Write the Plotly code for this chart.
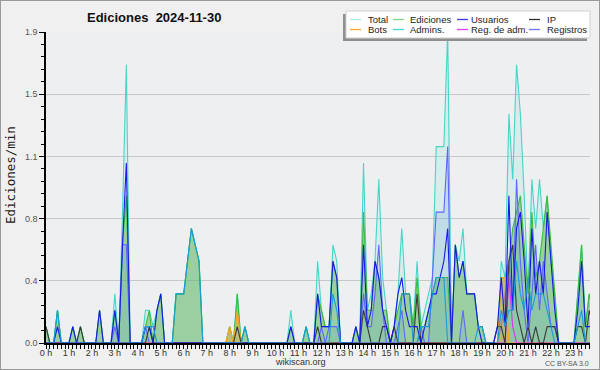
import numpy as np
import plotly.graph_objects as go

# ---- data: edits per minute in 10-minute bins (144 bins, 00:00 .. 23:50) ----
hours = [i / 6 for i in range(144)]

total = [
    0.1, 0, 0, 0.2, 0, 0, 0, 0.1, 0, 0.1, 0, 0,
    0, 0, 0.2, 0, 0, 0, 0.3, 0, 0.8, 1.7, 0, 0,
    0, 0, 0.2, 0.2, 0.1, 0.2, 0.3, 0, 0, 0, 0.3, 0.3,
    0.3, 0.5, 0.7, 0.6, 0.5, 0, 0, 0, 0, 0, 0, 0,
    0.1, 0, 0.3, 0, 0.1, 0, 0, 0, 0, 0, 0, 0,
    0, 0, 0, 0, 0.2, 0, 0, 0, 0.1, 0, 0, 0.5,
    0.2, 0.1, 0.1, 0.6, 0.5, 0, 0, 0, 0, 0.1, 0, 1.1,
    0.2, 0.3, 0.5, 1.0, 0.4, 0.2, 0, 0.1, 0.3, 0.7, 0.3, 0.3,
    0.1, 0.5, 0.1, 0.2, 0.3, 0.4, 1.2, 1.2, 1.2, 1.9, 0, 0.6,
    0.5, 0.7, 0.3, 0.3, 0.3, 0.1, 0.1, 0, 0, 0, 0, 0.5,
    0.4, 1.4, 1.0, 1.7, 1.4, 0.9, 0.3, 1.0, 0.7, 1.0, 0.7, 0.9,
    0.5, 0.3, 0, 0, 0, 0, 0, 0.3, 0.6, 0.1, 0.3, 0.2,
]
ediciones = [
    0.1, 0, 0, 0.2, 0, 0, 0, 0.1, 0, 0.1, 0, 0,
    0, 0, 0.2, 0, 0, 0, 0.2, 0, 0.6, 0.9, 0, 0,
    0, 0, 0.1, 0.2, 0, 0.2, 0.3, 0, 0, 0, 0.3, 0.3,
    0.3, 0.5, 0.7, 0.6, 0.5, 0, 0, 0, 0, 0, 0, 0,
    0.1, 0, 0.3, 0, 0.1, 0, 0, 0, 0, 0, 0, 0,
    0, 0, 0, 0, 0.1, 0, 0, 0, 0.1, 0, 0, 0.3,
    0.2, 0.1, 0.1, 0.5, 0.4, 0, 0, 0, 0, 0.1, 0, 0.8,
    0.2, 0.2, 0.5, 0.4, 0.2, 0.2, 0, 0.1, 0.2, 0.3, 0.3, 0.3,
    0.1, 0.4, 0.1, 0.1, 0.2, 0.3, 0.4, 0.4, 0.4, 0.4, 0, 0.6,
    0.4, 0.5, 0.3, 0.3, 0.3, 0.1, 0.1, 0, 0, 0, 0, 0.4,
    0.4, 0.5, 0.7, 0.8, 0.9, 0.6, 0.3, 0.8, 0.4, 0.5, 0.7, 0.9,
    0.6, 0.3, 0, 0, 0, 0, 0, 0.3, 0.6, 0.1, 0.3, 0.2,
]
usuarios = [
    0, 0, 0, 0.1, 0, 0, 0, 0.1, 0, 0, 0, 0,
    0, 0, 0.2, 0, 0, 0, 0.2, 0, 0.6, 1.1, 0, 0,
    0, 0, 0.1, 0.1, 0, 0.2, 0.3, 0, 0, 0, 0, 0,
    0, 0, 0, 0, 0, 0, 0, 0, 0, 0, 0, 0,
    0, 0, 0, 0, 0, 0, 0, 0, 0, 0, 0, 0,
    0, 0, 0, 0, 0.1, 0, 0, 0, 0, 0, 0, 0.3,
    0.1, 0.1, 0.1, 0.5, 0.4, 0, 0, 0, 0, 0.1, 0, 0.6,
    0.1, 0.2, 0.5, 0.4, 0.2, 0.1, 0, 0.1, 0.3, 0.4, 0.2, 0.1,
    0.1, 0.1, 0, 0.1, 0.2, 0.3, 0.3, 0.4, 0.5, 0.7, 0, 0.6,
    0.4, 0.5, 0.3, 0.3, 0.3, 0.1, 0, 0, 0, 0, 0.1, 0.4,
    0.1, 0.9, 0.2, 0.7, 0.8, 0.5, 0.1, 0.7, 0.3, 0.5, 0.3, 0.8,
    0.5, 0.2, 0, 0, 0, 0, 0, 0.2, 0.5, 0.1, 0.1, 0.1,
]
ip = [
    0.1, 0, 0, 0, 0, 0, 0, 0, 0, 0.1, 0, 0,
    0, 0, 0, 0, 0, 0, 0, 0, 0, 0, 0, 0,
    0, 0, 0, 0.1, 0, 0, 0, 0, 0, 0, 0, 0,
    0, 0, 0, 0, 0, 0, 0, 0, 0, 0, 0, 0,
    0, 0, 0.1, 0, 0, 0, 0, 0, 0, 0, 0, 0,
    0, 0, 0, 0, 0, 0, 0, 0, 0, 0, 0, 0.1,
    0, 0, 0, 0, 0, 0, 0, 0, 0, 0, 0, 0.2,
    0.1, 0, 0, 0, 0.1, 0.1, 0, 0.1, 0, 0, 0, 0,
    0, 0.3, 0, 0, 0, 0, 0, 0, 0, 0, 0, 0,
    0, 0, 0, 0, 0, 0, 0, 0, 0, 0, 0.1, 0.1,
    0, 0.5, 0.6, 0.2, 0.1, 0, 0.1, 0, 0.1, 0, 0, 0.1,
    0.1, 0.1, 0, 0, 0, 0, 0, 0.1, 0.1, 0, 0.2, 0.1,
]
bots = [0] * 144
for b, v in ((48, 0.1), (50, 0.2), (119, 0.4), (120, 0.4)):
    bots[b] = v
admins = [
    0, 0, 0, 0.2, 0, 0, 0, 0, 0, 0, 0, 0,
    0, 0, 0, 0, 0, 0, 0, 0, 0, 0, 0, 0,
    0, 0, 0.1, 0.1, 0.1, 0, 0, 0, 0, 0, 0.3, 0.3,
    0.3, 0.5, 0.7, 0.6, 0.5, 0, 0, 0, 0, 0, 0, 0,
    0, 0, 0, 0, 0.1, 0, 0, 0, 0, 0, 0, 0,
    0, 0, 0, 0, 0, 0, 0, 0, 0.1, 0, 0, 0,
    0, 0, 0, 0.3, 0.2, 0, 0, 0, 0, 0, 0, 0,
    0, 0, 0, 0, 0, 0, 0, 0, 0, 0.3, 0.3, 0.3,
    0, 0, 0.1, 0.1, 0.1, 0.3, 0.4, 0.4, 0.4, 0, 0, 0,
    0, 0, 0, 0, 0, 0.1, 0.1, 0, 0, 0, 0, 0.2,
    0.1, 0.2, 0.2, 0.5, 0.3, 0.2, 0.4, 0.2, 0.3, 0.3, 0.3, 0.2,
    0.1, 0, 0, 0, 0, 0, 0, 0.1, 0.2, 0, 0, 0,
]
reg_adm = [0] * 144
for b, v in ((121, 0.4), (122, 0.1)):
    reg_adm[b] = v
registros = [
    0, 0, 0, 0, 0, 0, 0, 0, 0, 0, 0, 0,
    0, 0, 0, 0, 0, 0, 0.1, 0, 0.6, 0.6, 0, 0,
    0, 0, 0.1, 0, 0, 0, 0, 0, 0, 0, 0, 0,
    0, 0, 0, 0, 0, 0, 0, 0, 0, 0, 0, 0,
    0, 0, 0, 0, 0, 0, 0, 0, 0, 0, 0, 0,
    0, 0, 0, 0, 0, 0, 0, 0, 0, 0, 0, 0,
    0.1, 0, 0.1, 0.1, 0.1, 0, 0, 0, 0, 0, 0, 0.3,
    0.1, 0.1, 0.3, 0.6, 0.2, 0, 0, 0, 0.1, 0.2, 0, 0,
    0, 0, 0.1, 0, 0, 0.4, 0.8, 0.8, 0.8, 1.2, 0, 0,
    0, 0.2, 0, 0, 0, 0, 0, 0, 0, 0, 0, 0.1,
    0.3, 0.5, 0.2, 1.0, 0.5, 0.2, 0, 0.3, 0.6, 0.2, 0.5, 0.3,
    0.1, 0.1, 0, 0, 0, 0, 0, 0, 0, 0, 0, 0,
]

title_text = "Ediciones\u00a0\u00a02024-11-30"
y_title = "Ediciones/min"
legend_rows = [["Total", "Ediciones", "Usuarios", "IP"],
               ["Bots", "Admins.", "Reg. de adm.", "Registros"]]
legend_colors = {"Total": "#A8E8E6", "Ediciones": "#86D486", "Usuarios": "#3A3AF0",
                 "IP": "#303030", "Bots": "#FFA629", "Admins.": "#40D6DC",
                 "Reg. de adm.": "#E040EE", "Registros": "#7474FF"}

# ---- layout geometry (pixels) ----
W, H = 600, 370
L, R, T, B = 46, 10, 32, 27
PW, PH = W - L - R, H - T - B


def px(x):
    return (x - L) / PW


def py(y):
    return (H - B - y) / PH


fig = go.Figure()

fig.add_trace(go.Scatter(x=hours, y=total, name="Total", mode="lines", fill="tozeroy",
                         fillcolor="rgba(120,220,210,0.18)",
                         line=dict(color="#46D6C8", width=1.1)))
fig.add_trace(go.Scatter(x=hours, y=ediciones, name="Ediciones", mode="lines", fill="tozeroy",
                         fillcolor="rgba(70,170,60,0.42)",
                         line=dict(color="#3DBB3D", width=1.1)))
fig.add_trace(go.Scatter(x=hours, y=registros, name="Registros", mode="lines", fill="tozeroy",
                         fillcolor="rgba(80,150,215,0.17)",
                         line=dict(color="#6464FF", width=1.1)))
fig.add_trace(go.Scatter(x=hours, y=bots, name="Bots", mode="lines", fill="tozeroy",
                         fillcolor="rgba(255,160,30,0.35)",
                         line=dict(color="#FFA020", width=1.1)))
fig.add_trace(go.Scatter(x=hours, y=reg_adm, name="Reg. de adm.", mode="lines",
                         line=dict(color="#DD33EE", width=1.1)))
fig.add_trace(go.Scatter(x=hours, y=ip, name="IP", mode="lines",
                         line=dict(color="#3A3A3A", width=1.1)))
fig.add_trace(go.Scatter(x=hours, y=usuarios, name="Usuarios", mode="lines",
                         line=dict(color="#1818E8", width=1.1)))
fig.add_trace(go.Scatter(x=hours, y=admins, name="Admins.", mode="lines",
                         line=dict(color="#1A9CDA", width=1.1)))

fig.update_layout(
    width=W, height=H,
    margin=dict(l=L, r=R, t=T, b=B, autoexpand=False),
    paper_bgcolor="#F0F0F0",
    plot_bgcolor="#EDEFF1",
    showlegend=False,
    font=dict(family="Liberation Sans, Arial, sans-serif", size=9, color="#444"),
    xaxis=dict(range=[0, 23.7], tickmode="linear", tick0=0, dtick=1, ticksuffix=" h",
               automargin=False, ticklabelstandoff=-4,
               ticks="outside", ticklen=4, tickwidth=1, tickcolor="#000",
               showline=True, linecolor="#000", linewidth=1.5, showgrid=False,
               zeroline=False, tickfont=dict(size=9, color="#333"),
               minor=dict(dtick=1 / 6, tick0=0, ticks="outside", ticklen=4,
                          tickcolor="#000", tickwidth=1, showgrid=False)),
    yaxis=dict(range=[0, 1.9005], tickmode="linear", tick0=0, dtick=0.38, tickformat=".1f",
               automargin=False,
               ticks="outside", ticklen=5, tickwidth=1, tickcolor="#000",
               showline=True, linecolor="#000", linewidth=1.5, showgrid=True,
               gridcolor="#C8C8C8", gridwidth=1, zeroline=False,
               tickfont=dict(size=9, color="#555"),
               minor=dict(dtick=0.076, tick0=0, ticks="outside", ticklen=3,
                          tickcolor="#000", tickwidth=1, showgrid=False)),
)

shapes = []
# outer border
shapes.append(dict(type="rect", xref="paper", yref="paper", x0=px(0), x1=px(W), y0=py(H), y1=py(0),
                   line=dict(color="#9A9A9A", width=2), fillcolor="rgba(0,0,0,0)", layer="above"))
# legend shadow and box
shapes.append(dict(type="rect", xref="paper", yref="paper", x0=px(343), x1=px(587), y0=py(41), y1=py(14),
                   line=dict(width=0), fillcolor="#909090", layer="above"))
shapes.append(dict(type="rect", xref="paper", yref="paper", x0=px(346), x1=px(590), y0=py(38), y1=py(11),
                   line=dict(color="#D0D0D0", width=1), fillcolor="#FFFFFF", layer="above"))

annotations = []
col_line_x = [350, 393, 457, 529]
col_text_x = [366, 408, 469, 545]
row_y = [19.5, 29.5]
for r, row in enumerate(legend_rows):
    for c, name in enumerate(row):
        shapes.append(dict(type="line", xref="paper", yref="paper",
                           x0=px(col_line_x[c]), x1=px(col_line_x[c] + 11),
                           y0=py(row_y[r]), y1=py(row_y[r]),
                           line=dict(color=legend_colors[name], width=1.3), layer="above"))
        annotations.append(dict(text=name, xref="paper", yref="paper", x=px(col_text_x[c]),
                                y=py(row_y[r]), xanchor="left", yanchor="middle", showarrow=False,
                                font=dict(size=9.5, color="#222",
                                          family="Liberation Sans, Arial, sans-serif")))

annotations.append(dict(text=title_text, xref="paper", yref="paper", x=px(85), y=py(17),
                        xanchor="left", yanchor="middle", showarrow=False,
                        font=dict(size=13, color="#111", weight="bold",
                                  family="Liberation Sans, Arial, sans-serif")))
annotations.append(dict(text=y_title, xref="paper", yref="paper", x=px(10), y=py(175),
                        xanchor="center", yanchor="middle", textangle=-90, showarrow=False,
                        font=dict(size=12.5, color="#222", family="DejaVu Sans Mono, monospace")))
annotations.append(dict(text="wikiscan.org", xref="paper", yref="paper", x=px(300), y=py(362),
                        xanchor="center", yanchor="middle", showarrow=False,
                        font=dict(size=9, color="#333")))
annotations.append(dict(text="CC BY-SA 3.0", xref="paper", yref="paper", x=px(591), y=py(363),
                        xanchor="right", yanchor="middle", showarrow=False,
                        font=dict(size=7, color="#555")))

fig.update_layout(shapes=shapes, annotations=annotations)
fig.write_html("out.html", config={"displayModeBar": False},
               post_script="document.body.style.margin='0';document.body.style.padding='0';")
